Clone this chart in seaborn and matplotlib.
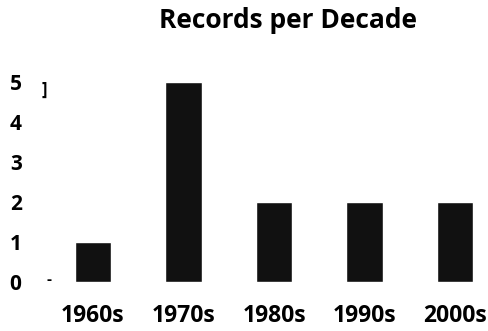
import matplotlib
matplotlib.use("Agg")
import matplotlib.pyplot as plt
import pandas as pd
import seaborn as sns

decades = ["1960s", "1970s", "1980s", "1990s", "2000s"]
records = [1, 5, 2, 2, 2]
y_ticks = [0, 1, 2, 3, 4, 5]

df = pd.DataFrame({"decade": decades, "records": records})

sns.set_theme(style="white")
plt.rcParams["font.family"] = ["Open Sans", "DejaVu Sans"]
plt.rcParams["text.color"] = "black"
plt.rcParams["xtick.color"] = "black"
plt.rcParams["ytick.color"] = "black"

fig = plt.figure(figsize=(4.88, 3.31), dpi=100)
ax = fig.add_axes([48 / 488, 49 / 331, 432 / 488, 212 / 331])

sns.barplot(data=df, x="decade", y="records", color="#111111",
            saturation=1, width=0.4, ax=ax)

ax.set_xlim(-0.497, 4.276)
ax.set_ylim(0, 5.3)
ax.set_yticks(y_ticks)
ax.set_yticklabels([str(t) for t in y_ticks], fontsize=15, fontweight="bold")
ax.set_xticks(range(len(decades)))
ax.set_xticklabels(decades, fontsize=16.5, fontweight="bold")
ax.tick_params(axis="y", length=0, pad=19)
ax.tick_params(axis="x", length=0, pad=16)
ax.set_xlabel("")
ax.set_ylabel("")
sns.despine(ax=ax, left=True, bottom=True)

# small leftover marks seen in the original
ax.text(0.002, 0.05, "-", transform=ax.get_yaxis_transform(), ha="center",
        va="center", fontsize=11, fontweight="bold")
ax.text(-0.009, 4.8, "]", transform=ax.get_yaxis_transform(), ha="center",
        va="center", fontsize=12, fontweight="bold")

fig.text(288 / 488, 1 - 20 / 331, "Records per Decade", ha="center",
         va="center", fontsize=19, fontweight="bold")

fig.savefig("out.png", dpi=100)
